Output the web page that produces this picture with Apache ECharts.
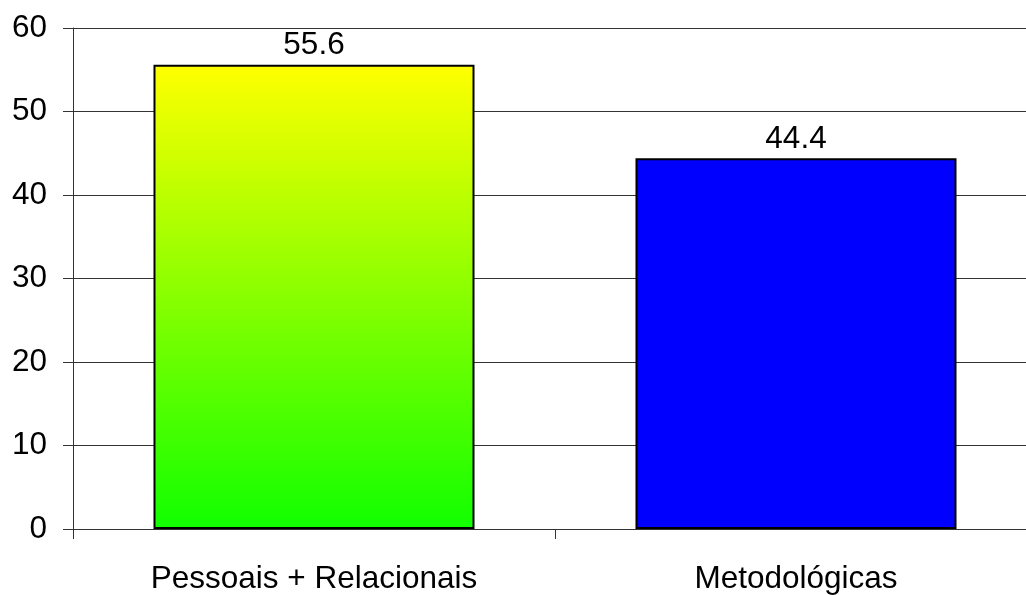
<!DOCTYPE html>
<html><head><meta charset="utf-8">
<script src="https://cdn.jsdelivr.net/npm/echarts@6/dist/echarts.min.js"></script>
<style>html,body{margin:0;padding:0;background:#fff;overflow:hidden;width:1026px;height:595px}#c{width:1040px;height:595px}</style>
</head><body><div id="c"></div>
<script>
const categories = ['Pessoais + Relacionais', 'Metodológicas'];
const values = [55.6, 44.4];
const yTicks = [0, 10, 20, 30, 40, 50, 60];

const chart = echarts.init(document.getElementById('c'), null, {renderer: 'canvas'});
const fills = [
  new echarts.graphic.LinearGradient(0, 0, 0, 1, [{offset: 0, color: '#ffff00'}, {offset: 1, color: '#11ff00'}]),
  '#0000ff'
];
chart.setOption({
  animation: false,
  grid: {left: 73, top: 28, bottom: 64, right: 3, containLabel: false},
  xAxis: {
    type: 'category', data: categories, boundaryGap: true,
    axisLine: {lineStyle: {color: '#333', width: 1}},
    axisTick: {show: true, length: 10, lineStyle: {color: '#333'}},
    axisLabel: {color: '#000', fontFamily: 'Liberation Sans', fontSize: 31.5, margin: 34}
  },
  yAxis: {
    type: 'value', min: yTicks[0], max: yTicks[yTicks.length - 1], interval: 10,
    axisLine: {show: true, lineStyle: {color: '#333', width: 1}},
    axisTick: {show: true, length: 10, lineStyle: {color: '#333'}},
    splitLine: {show: true, lineStyle: {color: '#333', width: 1}},
    axisLabel: {color: '#000', fontFamily: 'Liberation Sans', fontSize: 31.5, margin: 26}
  },
  series: [{
    type: 'bar', barCategoryGap: '33.4%',
    data: values.map((v, i) => ({value: v, itemStyle: {color: fills[i]}})),
    itemStyle: {borderColor: '#000', borderWidth: 2},
    label: {show: true, position: 'top', distance: 3, color: '#000', fontFamily: 'Liberation Sans', fontSize: 31.5,
      formatter: p => p.value.toFixed(1)}
  }]
});
</script></body></html>
